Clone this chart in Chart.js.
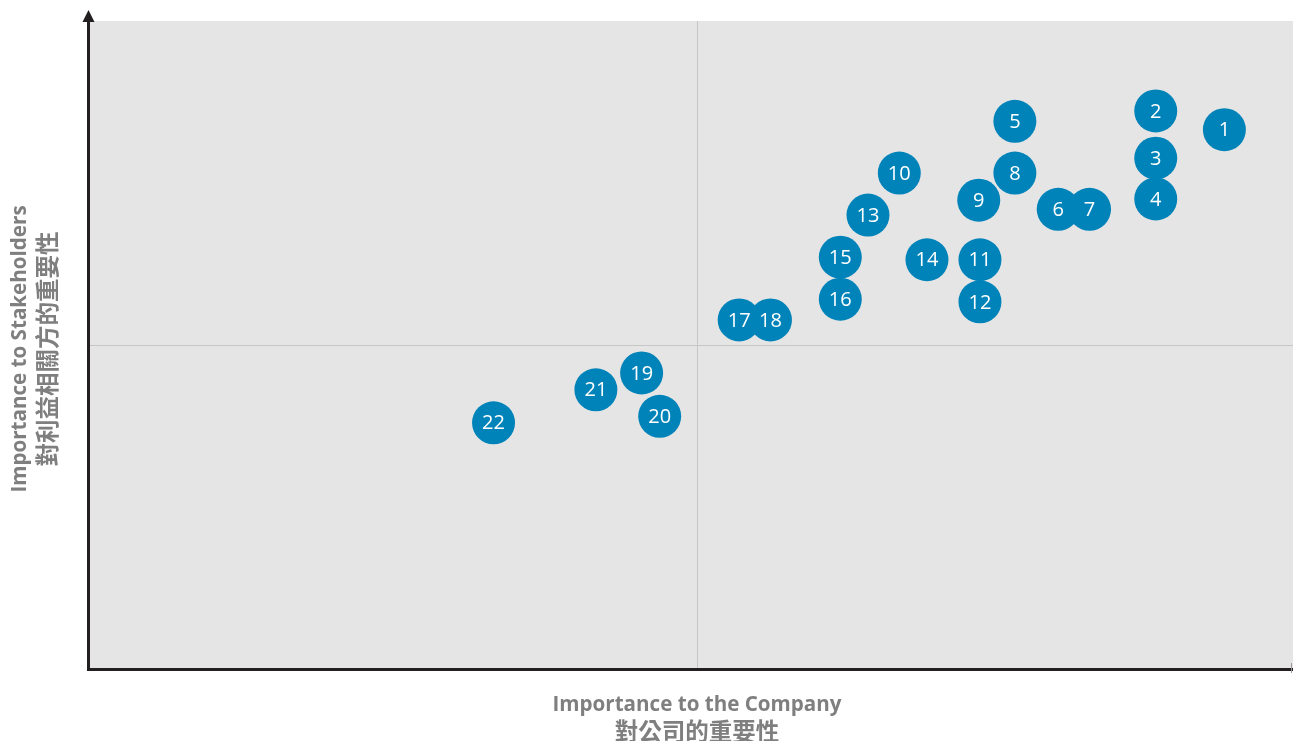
<!DOCTYPE html>
<html>
<head>
<meta charset="utf-8">
<script src="https://cdn.jsdelivr.net/npm/chart.js@4/dist/chart.umd.min.js"></script>
<style>
  body { margin: 0; background: #fff; }
  #matrix { display: block; }
</style>
</head>
<body>
<canvas id="matrix" width="1293" height="741"></canvas>
<script>
// issue numbers and their scores (0-10 on both axes)
const issues = ['1', '2', '3', '4', '5', '6', '7', '8', '9', '10', '11',
  '12', '13', '14', '15', '16', '17', '18', '19', '20', '21', '22']
const companyScore = [9.43, 8.86, 8.86, 8.86, 7.69, 8.05, 8.31, 7.69, 7.39, 6.73, 7.40,
  7.40, 6.47, 6.96, 6.24, 6.24, 5.40, 5.66, 4.59, 4.74, 4.21, 3.36]
const stakeholderScore = [8.32, 8.61, 7.88, 7.25, 8.45, 7.09, 7.09, 7.65, 7.23, 7.65, 6.31,
  5.66, 7.00, 6.31, 6.35, 5.70, 5.38, 5.38, 4.56, 3.89, 4.30, 3.79]
const axisMin = 0
const axisMax = 10
// quadrant split lines
const companyMid = 5.05
const stakeholderMid = 5

const xTitle = ['Importance to the Company', '對公司的重要性']
const yTitle = ['Importance to Stakeholders', '對利益相關方的重要性']

const titleFont = 'bold 20.6px "Open Sans", sans-serif'
const cjkFont = 'bold 23.5px "Noto Sans CJK TC", sans-serif'

// grey field + quadrant lines, drawn under the bubbles
const backdrop = {
  id: 'backdrop',
  beforeDatasetsDraw(chart) {
    const { ctx, chartArea: a, scales: { x, y } } = chart
    ctx.save()
    ctx.fillStyle = '#e5e5e5'
    ctx.fillRect(a.left, a.top, a.right - a.left, a.bottom - a.top)
    ctx.strokeStyle = '#c6c6c6'
    ctx.lineWidth = 1
    const mx = Math.round(x.getPixelForValue(companyMid)) + 0.5
    const my = Math.round(y.getPixelForValue(stakeholderMid)) + 0.5
    ctx.beginPath()
    ctx.moveTo(mx, a.top)
    ctx.lineTo(mx, a.bottom)
    ctx.moveTo(a.left, my)
    ctx.lineTo(a.right, my)
    ctx.stroke()
    ctx.restore()
  }
}

// numbers on the bubbles, axes with arrow, axis titles
const overlay = {
  id: 'overlay',
  afterDatasetsDraw(chart) {
    const { ctx, chartArea: a, scales: { x } } = chart
    const meta = chart.getDatasetMeta(0)
    ctx.save()
    ctx.fillStyle = '#ffffff'
    ctx.font = '20px "Open Sans", sans-serif'
    ctx.textAlign = 'center'
    ctx.textBaseline = 'middle'
    meta.data.forEach((pt, i) => {
      ctx.fillText(issues[i], pt.x, pt.y + 1)
    })

    // axes
    ctx.strokeStyle = '#231f20'
    ctx.fillStyle = '#231f20'
    ctx.lineWidth = 3
    ctx.beginPath()
    ctx.moveTo(a.left - 0.5, a.top - 2)
    ctx.lineTo(a.left - 0.5, a.bottom + 1.5)
    ctx.lineTo(a.right, a.bottom + 1.5)
    ctx.stroke()
    ctx.beginPath()
    ctx.moveTo(a.left - 0.5, a.top - 11)
    ctx.lineTo(a.left - 6.5, a.top + 1)
    ctx.lineTo(a.left + 5.5, a.top + 1)
    ctx.closePath()
    ctx.fill()
    ctx.lineWidth = 1
    ctx.strokeStyle = '#999'
    ctx.beginPath()
    ctx.moveTo(a.right - 1.5, a.bottom - 5)
    ctx.lineTo(a.right - 1.5, a.bottom + 5)
    ctx.stroke()

    // titles
    ctx.fillStyle = '#7f7f7f'
    const cx = x.getPixelForValue(companyMid)
    ctx.font = titleFont
    ctx.fillText(xTitle[0], cx, 705)
    ctx.font = cjkFont
    ctx.fillText(xTitle[1], cx, 731)

    ctx.translate(20, 349)
    ctx.rotate(-Math.PI / 2)
    ctx.font = titleFont
    ctx.fillText(yTitle[0], 0, 0)
    ctx.font = cjkFont
    ctx.fillText(yTitle[1], 0, 27)
    ctx.restore()
  }
}

new Chart(document.getElementById('matrix'), {
  type: 'scatter',
  data: {
    datasets: [{
      data: companyScore.map((v, i) => ({ x: v, y: stakeholderScore[i] })),
      backgroundColor: '#0083b9',
      borderWidth: 0,
      pointRadius: 21.5,
      pointHoverRadius: 21.5
    }]
  },
  options: {
    responsive: false,
    animation: false,
    layout: { autoPadding: false, padding: { left: 89, top: 21, right: 0, bottom: 73 } },
    plugins: { legend: { display: false }, tooltip: { enabled: false } },
    scales: {
      x: { type: 'linear', min: axisMin, max: axisMax, display: false },
      y: { type: 'linear', min: axisMin, max: axisMax, display: false }
    }
  },
  plugins: [backdrop, overlay]
})
</script>
</body>
</html>
